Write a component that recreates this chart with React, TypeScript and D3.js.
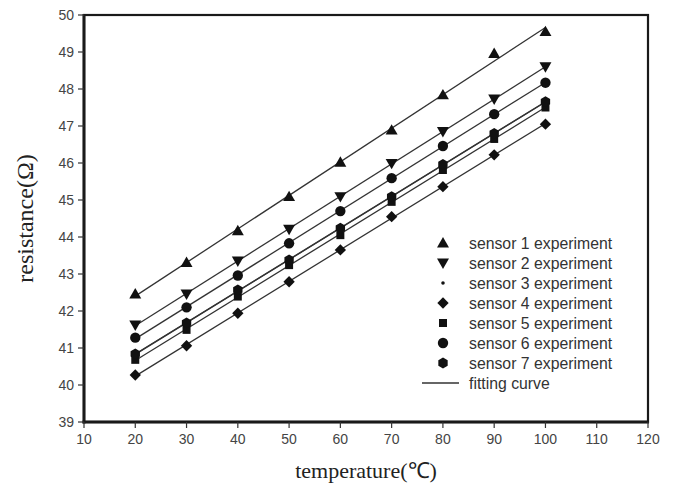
import React from "react";
import * as d3 from "d3";

const temperatures = [20, 30, 40, 50, 60, 70, 80, 90, 100];
const sensor1 = [42.46, 43.31, 44.17, 45.09, 46.02, 46.89, 47.84, 48.96, 49.55];
const sensor2 = [41.62, 42.46, 43.35, 44.21, 45.09, 45.99, 46.85, 47.73, 48.6];
const sensor3 = [40.83, 41.67, 42.56, 43.38, 44.23, 45.08, 45.95, 46.8, 47.65];
const sensor4 = [40.27, 41.06, 41.94, 42.79, 43.65, 44.55, 45.36, 46.22, 47.05];
const sensor5 = [40.68, 41.49, 42.39, 43.24, 44.05, 44.95, 45.81, 46.65, 47.5];
const sensor6 = [41.28, 42.1, 42.96, 43.83, 44.7, 45.59, 46.46, 47.32, 48.17];
const sensor7 = [40.84, 41.68, 42.57, 43.38, 44.24, 45.09, 45.96, 46.8, 47.66];

const seriesNames = [
  "sensor 1 experiment",
  "sensor 2 experiment",
  "sensor 3 experiment",
  "sensor 4 experiment",
  "sensor 5 experiment",
  "sensor 6 experiment",
  "sensor 7 experiment",
];
const seriesValues = [sensor1, sensor2, sensor3, sensor4, sensor5, sensor6, sensor7];
const seriesShapes = ["triUp", "triDown", "dot", "diamond", "square", "circle", "hexagon"];
const fitLabel = "fitting curve";

const xTicks = [10, 20, 30, 40, 50, 60, 70, 80, 90, 100, 110, 120];
const yTicks = [39, 40, 41, 42, 43, 44, 45, 46, 47, 48, 49, 50];

const W = 675;
const H = 488;
const left = 84;
const right = 648;
const top = 15;
const bottom = 422;

function markerPath(shape: string): string {
  switch (shape) {
    case "triUp":
      return d3.symbol(d3.symbolTriangle, 62)()!;
    case "triDown":
      return d3.symbol(d3.symbolTriangle, 62)()!;
    case "dot":
      return d3.symbol(d3.symbolCircle, 10)()!;
    case "diamond":
      return d3.symbol(d3.symbolSquare, 64)()!;
    case "square":
      return d3.symbol(d3.symbolSquare, 64)()!;
    case "circle":
      return d3.symbol(d3.symbolCircle, 84)()!;
    case "hexagon": {
      const r = 5.4;
      const pts = d3.range(6).map((i) => {
        const a = (Math.PI / 3) * i + Math.PI / 6;
        return [r * Math.cos(a), r * Math.sin(a)] as [number, number];
      });
      return d3.line()(pts)! + "Z";
    }
  }
  return "";
}

function markerRotate(shape: string): number {
  if (shape === "triDown") return 180;
  if (shape === "diamond") return 45;
  return 0;
}

function Marker({ shape, x, y }: { shape: string; x: number; y: number }) {
  const dy = shape === "triUp" ? 1 : shape === "triDown" ? -1 : 0;
  return (
    <path
      d={markerPath(shape)}
      transform={`translate(${x},${y + dy}) rotate(${markerRotate(shape)})`}
      fill="#111"
    />
  );
}

export default function App() {
  const x = d3.scaleLinear().domain([10, 120]).range([left, right]);
  const y = d3.scaleLinear().domain([39, 50]).range([bottom, top]);

  const fits = seriesValues.map((vals) => {
    const mx = d3.mean(temperatures)!;
    const my = d3.mean(vals)!;
    const sxy = d3.sum(temperatures.map((t, i) => (t - mx) * (vals[i] - my)));
    const sxx = d3.sum(temperatures.map((t) => (t - mx) * (t - mx)));
    const b = sxy / sxx;
    const a = my - b * mx;
    const t0 = temperatures[0];
    const t1 = temperatures[temperatures.length - 1];
    return d3.line()([
      [x(t0), y(a + b * t0)],
      [x(t1), y(a + b * t1)],
    ])!;
  });

  const tickFont = "Arial, 'Liberation Sans', sans-serif";
  const titleFont = "'Times New Roman', 'Liberation Serif', serif";

  return (
    <div style={{ position: "absolute", left: 0, top: 0 }}>
      <svg width={W} height={H} style={{ display: "block", background: "#fff" }}>
        {fits.map((d, i) => (
          <path key={`fit${i}`} d={d} stroke="#333" strokeWidth={1.3} fill="none" />
        ))}
        {seriesValues.map((vals, si) =>
          vals.map((v, i) => (
            <Marker key={`m${si}-${i}`} shape={seriesShapes[si]} x={x(temperatures[i])} y={y(v)} />
          ))
        )}
        <rect
          x={left}
          y={top}
          width={right - left}
          height={bottom - top}
          fill="none"
          stroke="#1a1a1a"
          strokeWidth={2.2}
        />
        <line x1={left} x2={left} y1={top - 1} y2={bottom + 1.5} stroke="#1a1a1a" strokeWidth={3} />
        <line x1={left - 1.5} x2={right + 1} y1={bottom} y2={bottom} stroke="#1a1a1a" strokeWidth={3} />
        {yTicks.map((t) => (
          <g key={`yt${t}`}>
            <line x1={left - 6} x2={left} y1={y(t)} y2={y(t)} stroke="#333" strokeWidth={1.2} />
            <text
              x={left - 10}
              y={y(t)}
              dy="0.36em"
              textAnchor="end"
              fontFamily={tickFont}
              fontSize={14}
              fill="#444"
            >
              {t}
            </text>
          </g>
        ))}
        {xTicks.map((t) => (
          <g key={`xt${t}`}>
            <line x1={x(t)} x2={x(t)} y1={bottom} y2={bottom + 6} stroke="#333" strokeWidth={1.2} />
            <text
              x={x(t)}
              y={bottom + 22}
              textAnchor="middle"
              fontFamily={tickFont}
              fontSize={14}
              fill="#444"
            >
              {t}
            </text>
          </g>
        ))}
        <text
          x={366}
          y={478}
          textAnchor="middle"
          fontFamily={titleFont}
          fontSize={22}
          fill="#222"
        >
          temperature(℃)
        </text>
        <text
          transform={`translate(33,${(top + bottom) / 2}) rotate(-90)`}
          textAnchor="middle"
          fontFamily={titleFont}
          fontSize={24}
          fill="#222"
        >
          resistance(Ω)
        </text>
        {seriesNames.map((name, i) => (
          <g key={`lg${i}`}>
            <Marker shape={seriesShapes[i]} x={443} y={243 + i * 20} />
            <text
              x={469}
              y={243 + i * 20}
              dy="0.36em"
              fontFamily={tickFont}
              fontSize={15.8}
              fill="#333"
            >
              {name}
            </text>
          </g>
        ))}
        <line x1={422} x2={459} y1={383} y2={383} stroke="#333" strokeWidth={1.3} />
        <text x={469} y={383} dy="0.36em" fontFamily={tickFont} fontSize={15.8} fill="#333">
          {fitLabel}
        </text>
      </svg>
    </div>
  );
}
